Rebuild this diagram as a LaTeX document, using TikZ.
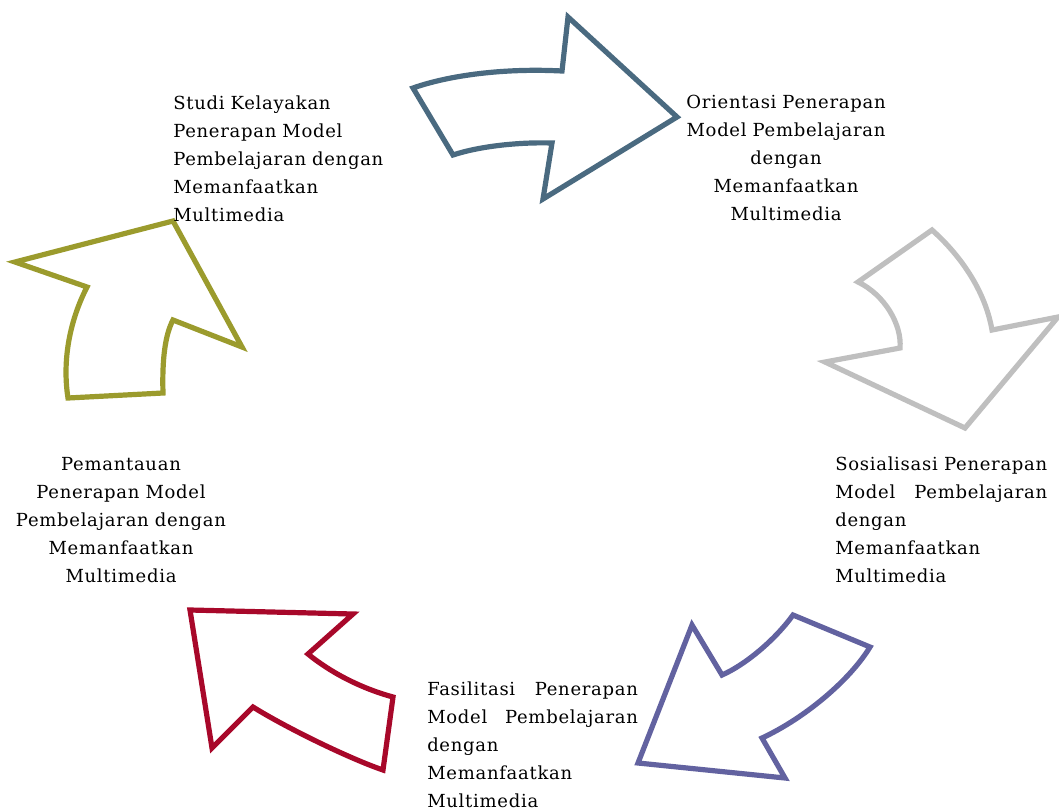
\documentclass[tikz,border=0pt]{standalone}
\usepackage{fontspec}
\setmainfont{DejaVu Serif}[LetterSpace=4]
\usepackage{xcolor}
\usepackage{tikz}
\usetikzlibrary{positioning}
\definecolor{slate}{RGB}{74,106,128}
\definecolor{silver}{RGB}{191,191,191}
\definecolor{indigo}{RGB}{98,98,160}
\definecolor{crimson}{RGB}{168,8,42}
\definecolor{moss}{RGB}{155,155,45}
\tikzset{
  arw/.style={line width=3.9pt,miter limit=10},
  lbl/.style={inner sep=0pt,text width=166pt,font=\fontsize{13.5}{21}\selectfont},
}
\begin{document}
\begin{tikzpicture}[x=0.75pt,y=-0.75pt]
  \useasboundingbox (0,0) rectangle (1059,810);
  \draw[arw,slate] (413,88) .. controls (450,75) and (505,68) .. (562,71) -- (568,17) -- (677,117) -- (543,199) -- (552,143) .. controls (520,142) and (480,146) .. (453,155) -- cycle;
  \draw[arw,silver] (932,230) .. controls (960,255) and (985,290) .. (992,330) -- (1058,317) -- (965,428) -- (825,362) -- (900,348) .. controls (902,325) and (885,295) .. (858,282) -- cycle;
  \draw[arw,indigo] (793,615) -- (870,647) .. controls (850,680) and (805,718) .. (762,738) -- (785,778) -- (638,763) -- (692,625) -- (722,675) .. controls (745,665) and (775,640) .. (793,615) -- cycle;
  \draw[arw,crimson] (190,610) -- (353,614) -- (308,654) .. controls (330,672) and (360,688) .. (393,697) -- (383,770) .. controls (348,758) and (285,727) .. (253,707) -- (212,748) -- cycle;
  \draw[arw,moss] (173,221) -- (242,347) -- (173,320) .. controls (165,335) and (162,360) .. (163,393) -- (68,398) .. controls (62,360) and (70,320) .. (87,287) -- (15,262) -- cycle;
  \node[lbl,anchor=base west,align=left] (studi) at (173,109) {Studi Kelayakan\\Penerapan Model\\Pembelajaran dengan\\Memanfaatkan\\Multimedia};
  \node[lbl,anchor=base,align=center] (orient) at (786,108) {Orientasi Penerapan\\Model Pembelajaran\\dengan\\Memanfaatkan\\Multimedia};
  \node[lbl,anchor=base west,text width=159pt,align=justify] (sosial) at (835,470) {Sosialisasi Penerapan\linebreak Model Pembelajaran\linebreak dengan\\Memanfaatkan\\Multimedia};
  \node[lbl,anchor=base west,text width=158pt,align=justify] (fasil) at (427,695) {Fasilitasi Penerapan\linebreak Model Pembelajaran\linebreak dengan\\Memanfaatkan\\Multimedia};
  \node[lbl,anchor=base,align=center] (pantau) at (121,470) {Pemantauan\\Penerapan Model\\Pembelajaran dengan\\Memanfaatkan\\Multimedia};
\end{tikzpicture}
\end{document}
